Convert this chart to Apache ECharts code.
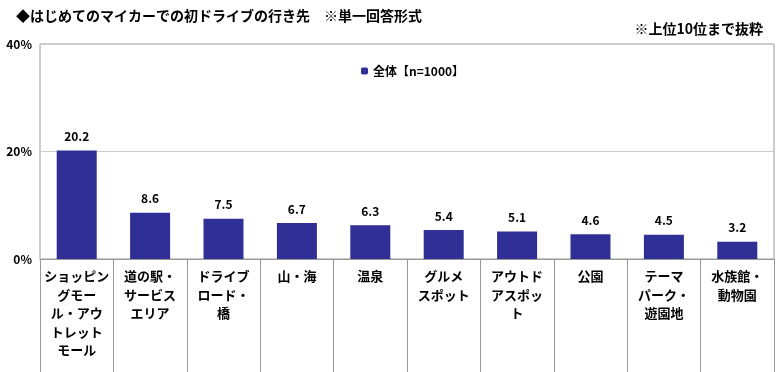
<!DOCTYPE html>
<html><head><meta charset="utf-8">
<script src="https://cdn.jsdelivr.net/npm/echarts@6/dist/echarts.min.js"></script>
<style>html,body{margin:0;padding:0;background:#fff}#c{width:780px;height:372px}</style>
</head><body><div id="c"></div>
<script>
const categories = ['ショッピン\nグモー\nル・アウ\nトレット\nモール','道の駅・\nサービス\nエリア','ドライブ\nロード・\n橋','山・海','温泉','グルメ\nスポット','アウトド\nアスポッ\nト','公園','テーマ\nパーク・\n遊園地','水族館・\n動物園'];
const values = [20.2, 8.6, 7.5, 6.7, 6.3, 5.4, 5.1, 4.6, 4.5, 3.2];
const seriesName = '全体【n=1000】';
const yTicks = [0, 20, 40];
const font = '"Noto Sans CJK JP", sans-serif';
const chart = echarts.init(document.getElementById('c'));
chart.setOption({
  animation: false,
  textStyle: {fontFamily: font},
  title: [
    {text: '◆はじめてのマイカーでの初ドライブの行き先　※単一回答形式', left: 11, top: 4,
     textStyle: {fontSize: 14, fontWeight: 'bold', color: '#000', fontFamily: font}},
    {text: '※上位10位まで抜粋', right: 12, top: 17,
     textStyle: {fontSize: 14, fontWeight: 'bold', color: '#000', fontFamily: font}}
  ],
  legend: {data: [seriesName], left: 356, top: 60, itemWidth: 7, itemHeight: 7, itemGap: 4,
    textStyle: {fontSize: 12, fontWeight: 'bold', color: '#000', fontFamily: font}},
  grid: {left: 40, right: 6, top: 44, bottom: 113, show: true, borderColor: '#999', borderWidth: 1},
  xAxis: {type: 'category', data: categories,
    axisLine: {lineStyle: {color: '#999'}},
    axisTick: {show: true, length: 113, alignWithLabel: false, lineStyle: {color: '#999'}},
    axisLabel: {interval: 0, margin: 8, fontSize: 13, fontWeight: 'bold', color: '#000', lineHeight: 18.5, verticalAlign: 'top', fontFamily: font}
  },
  yAxis: {type: 'value', min: 0, max: 40, interval: 20,
    axisLabel: {formatter: '{value}%', fontSize: 12, fontWeight: 'bold', color: '#000', margin: 8, fontFamily: font},
    splitLine: {lineStyle: {color: '#ccc'}},
    axisLine: {show: false}, axisTick: {show: false}
  },
  series: [{name: seriesName, type: 'bar', data: values, barWidth: 40,
    itemStyle: {color: '#2f2f96'},
    label: {show: true, position: 'top', distance: 8, fontSize: 12, fontWeight: 'bold', color: '#000', formatter: p => p.value.toFixed(1)}
  }]
});
</script></body></html>
